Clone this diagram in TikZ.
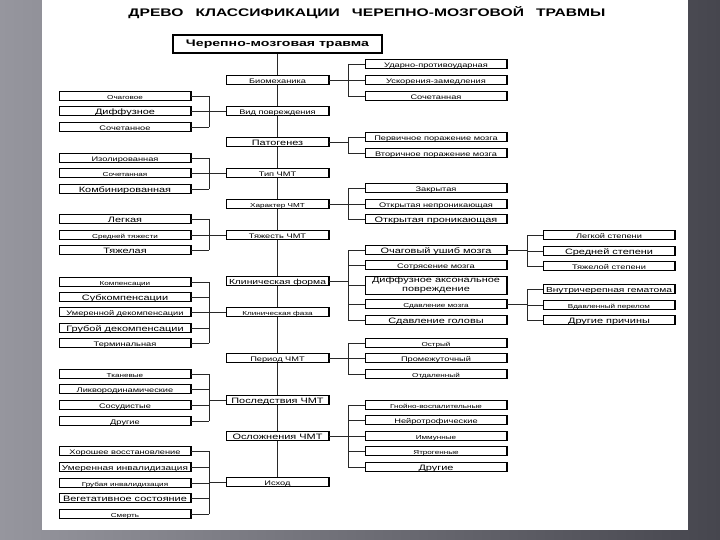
\documentclass[tikz,border=0pt]{standalone}
\usepackage{fontspec}
\usepackage{graphicx}
\setmainfont{Liberation Sans}
\newfontfamily\boxfont[FakeStretch=1.4]{Liberation Sans}
\newsavebox\fitbx
\newcommand\fitto[2]{\sbox\fitbx{#2}\ifdim\wd\fitbx>#1\relax\resizebox{#1}{!}{\usebox\fitbx}\else\usebox\fitbx\fi}
\newcommand\fitC[1]{\fitto{97pt}{#1}}
\newcommand\fitR[1]{\fitto{136pt}{#1}}
\newcommand\fitL[1]{\fitto{126pt}{#1}}
\definecolor{bgL}{RGB}{150,150,158}
\definecolor{bgR}{RGB}{70,70,78}
\definecolor{lnc}{RGB}{40,40,40}
\tikzset{
  conn/.style={draw=lnc, line width=0.7pt},
  box/.style={draw=black, line width=0.6pt, fill=white, inner sep=0pt,
    minimum height=9.5pt, font=\boxfont\fontsize{6.6}{7}\selectfont,
    text height=0.72em, text depth=0.1em,
    path picture={\draw[line width=2.4pt]
      (path picture bounding box.north west) -- (path picture bounding box.south west)
      (path picture bounding box.north east) -- (path picture bounding box.south east);}},
  txtbig/.style={font=\boxfont\fontsize{7.8}{8.5}\selectfont},
  txtsmall/.style={font=\boxfont\fontsize{5.8}{6.5}\selectfont},
  cbox/.style={box, minimum width=103pt},
  rbox/.style={box, minimum width=142pt},
  lbox/.style={box, minimum width=132pt},
  farbox/.style={box, minimum width=132pt},
}
\newcommand\grpL[4]{%
  \draw[conn] (#1.west) -- (#1.west -| LB);
  \draw[conn] (#2.east -| LB) -- (#3.east -| LB);
  \foreach \n in {#4} {\draw[conn] (\n.east) -- (\n.east -| LB);}}
\newcommand\grpR[4]{%
  \draw[conn] (#1.east) -- (#1.east -| RB);
  \draw[conn] (#2.west -| RB) -- (#3.west -| RB);
  \foreach \n in {#4} {\draw[conn] (\n.west) -- (\n.west -| RB);}}
\newcommand\grpF[4]{%
  \draw[conn] (#1.east) -- (#1.east -| FB);
  \draw[conn] (#2.west -| FB) -- (#3.west -| FB);
  \foreach \n in {#4} {\draw[conn] (\n.west) -- (\n.west -| FB);}}
\begin{document}
\begin{tikzpicture}[x=1pt,y=-1pt]
\useasboundingbox (0,0) rectangle (720,540);
\shade[left color=bgL, right color=bgR] (0,0) rectangle (720,540);
\fill[white] (42,0) rectangle (688,530);
\coordinate (LB) at (209,0);
\coordinate (RB) at (348,0);
\coordinate (FB) at (527,0);

\node[inner sep=0pt] (title) at (367,13)
  {\resizebox{477pt}{\height}{\bfseries\fontsize{11}{12}\selectfont ДРЕВО\hspace{0.5em} КЛАССИФИКАЦИИ\hspace{0.5em} ЧЕРЕПНО-МОЗГОВОЙ\hspace{0.5em} ТРАВМЫ}};
\node[draw=black, line width=1.6pt, fill=white, minimum width=209pt, minimum height=18pt, inner sep=0pt] (top) at (277.5,44)
  {\resizebox{183pt}{\height}{\bfseries\fontsize{9.5}{10}\selectfont Черепно-мозговая травма}};

% central column
\node[cbox] (bio) at (277.5,80) {\fitC{Биомеханика}};
\node[cbox] (vid) at (277.5,111) {\fitC{Вид повреждения}};
\node[cbox, txtbig] (pat) at (277.5,142) {\fitC{Патогенез}};
\node[cbox] (tip) at (277.5,173) {\fitC{Тип ЧМТ}};
\node[cbox, txtsmall] (har) at (277.5,204) {\fitC{Характер ЧМТ}};
\node[cbox] (tyazh) at (277.5,235) {\fitC{Тяжесть ЧМТ}};
\node[cbox, txtbig] (klf) at (277.5,281) {\fitC{Клиническая форма}};
\node[cbox, txtsmall] (klph) at (277.5,312) {\fitC{Клиническая фаза}};
\node[cbox] (per) at (277.5,358) {\fitC{Период ЧМТ}};
\node[cbox, txtbig] (posl) at (277.5,400) {\fitC{Последствия ЧМТ}};
\node[cbox, txtbig] (osl) at (277.5,436) {\fitC{Осложнения ЧМТ}};
\node[cbox] (ishod) at (277.5,482) {\fitC{Исход}};

% right column
\node[rbox] (r1) at (436,64) {\fitR{Ударно-противоударная}};
\node[rbox] (r2) at (436,80) {\fitR{Ускорения-замедления}};
\node[rbox] (r3) at (436,96) {\fitR{Сочетанная}};
\node[rbox] (r4) at (436,137) {\fitR{Первичное поражение мозга}};
\node[rbox] (r5) at (436,153) {\fitR{Вторичное поражение мозга}};
\node[rbox] (r6) at (436,188) {\fitR{Закрытая}};
\node[rbox] (r7) at (436,204) {\fitR{Открытая непроникающая}};
\node[rbox, txtbig] (r8) at (436,219) {\fitR{Открытая проникающая}};
\node[rbox, txtbig] (r9) at (436,250) {\fitR{Очаговый ушиб мозга}};
\node[rbox] (r10) at (436,265) {\fitR{Сотрясение мозга}};
\node[rbox, txtbig, minimum height=18pt, align=center, text height={}, text depth={}] (r11) at (436,285) {Диффузное аксональное\\повреждение};
\node[rbox, txtsmall] (r12) at (436,304) {\fitR{Сдавление мозга}};
\node[rbox, txtbig] (r13) at (436,320) {\fitR{Сдавление головы}};
\node[rbox, txtsmall] (r14) at (436,343) {\fitR{Острый}};
\node[rbox] (r15) at (436,358) {\fitR{Промежуточный}};
\node[rbox, txtsmall] (r16) at (436,374) {\fitR{Отдаленный}};
\node[rbox, txtsmall] (r17) at (436,405) {\fitR{Гнойно-воспалительные}};
\node[rbox] (r18) at (436,420) {\fitR{Нейротрофические}};
\node[rbox, txtsmall] (r19) at (436,436) {\fitR{Иммунные}};
\node[rbox, txtsmall] (r20) at (436,451) {\fitR{Ятрогенные}};
\node[rbox, txtbig] (r21) at (436,467) {\fitR{Другие}};

% far right column
\node[farbox] (f1) at (609,235) {\fitL{Легкой степени}};
\node[farbox, txtbig] (f2) at (609,251) {\fitL{Средней степени}};
\node[farbox] (f3) at (609,266) {\fitL{Тяжелой степени}};
\node[farbox, txtbig] (f4) at (609,289) {\fitL{Внутричерепная гематома}};
\node[farbox, txtsmall] (f5) at (609,305) {\fitL{Вдавленный перелом}};
\node[farbox, txtbig] (f6) at (609,320) {\fitL{Другие причины}};

% left column
\node[lbox, txtsmall] (l1) at (125,96) {\fitL{Очаговое}};
\node[lbox, txtbig] (l2) at (125,111) {\fitL{Диффузное}};
\node[lbox] (l3) at (125,127) {\fitL{Сочетанное}};
\node[lbox] (l4) at (125,158) {\fitL{Изолированная}};
\node[lbox, txtsmall] (l5) at (125,173) {\fitL{Сочетанная}};
\node[lbox, txtbig] (l6) at (125,189) {\fitL{Комбинированная}};
\node[lbox, txtbig] (l7) at (125,219) {\fitL{Легкая}};
\node[lbox, txtsmall] (l8) at (125,235) {\fitL{Средней тяжести}};
\node[lbox, txtbig] (l9) at (125,250) {\fitL{Тяжелая}};
\node[lbox, txtsmall] (l10) at (125,282) {\fitL{Компенсации}};
\node[lbox, txtbig] (l11) at (125,297) {\fitL{Субкомпенсации}};
\node[lbox] (l12) at (125,312) {\fitL{Умеренной декомпенсации}};
\node[lbox, txtbig] (l13) at (125,328) {\fitL{Грубой декомпенсации}};
\node[lbox] (l14) at (125,343) {\fitL{Терминальная}};
\node[lbox, txtsmall] (l15) at (125,374) {\fitL{Тканевые}};
\node[lbox] (l16) at (125,389) {\fitL{Ликвородинамические}};
\node[lbox] (l17) at (125,405) {\fitL{Сосудистые}};
\node[lbox] (l18) at (125,421) {\fitL{Другие}};
\node[lbox] (l19) at (125,451) {\fitL{Хорошее восстановление}};
\node[lbox, txtbig] (l20) at (125,467) {\fitL{Умеренная инвалидизация}};
\node[lbox, txtsmall] (l21) at (125,483) {\fitL{Грубая инвалидизация}};
\node[lbox, txtbig] (l22) at (125,498) {\fitL{Вегетативное состояние}};
\node[lbox, txtsmall] (l23) at (125,514) {\fitL{Смерть}};

% spine
\draw[conn] (top) -- (bio) -- (vid) -- (pat) -- (tip) -- (har) -- (tyazh) -- (klf)
  -- (klph) -- (per) -- (posl) -- (osl) -- (ishod);

% groups
\grpR{bio}{r1}{r3}{r1,r2,r3}
\grpL{vid}{l1}{l3}{l1,l2,l3}
\grpR{pat}{r4}{r5}{r4,r5}
\grpL{tip}{l4}{l6}{l4,l5,l6}
\grpR{har}{r6}{r8}{r6,r7,r8}
\grpL{tyazh}{l7}{l9}{l7,l8,l9}
\grpR{klf}{r9}{r13}{r9,r10,r11,r12,r13}
\grpF{r9}{f1}{f3}{f1,f2,f3}
\grpF{r12}{f4}{f6}{f4,f5,f6}
\grpL{klph}{l10}{l14}{l10,l11,l12,l13,l14}
\grpR{per}{r14}{r16}{r14,r15,r16}
\grpL{posl}{l15}{l18}{l15,l16,l17,l18}
\grpR{osl}{r17}{r21}{r17,r18,r19,r20,r21}
\grpL{ishod}{l19}{l23}{l19,l20,l21,l22,l23}
\end{tikzpicture}
\end{document}
